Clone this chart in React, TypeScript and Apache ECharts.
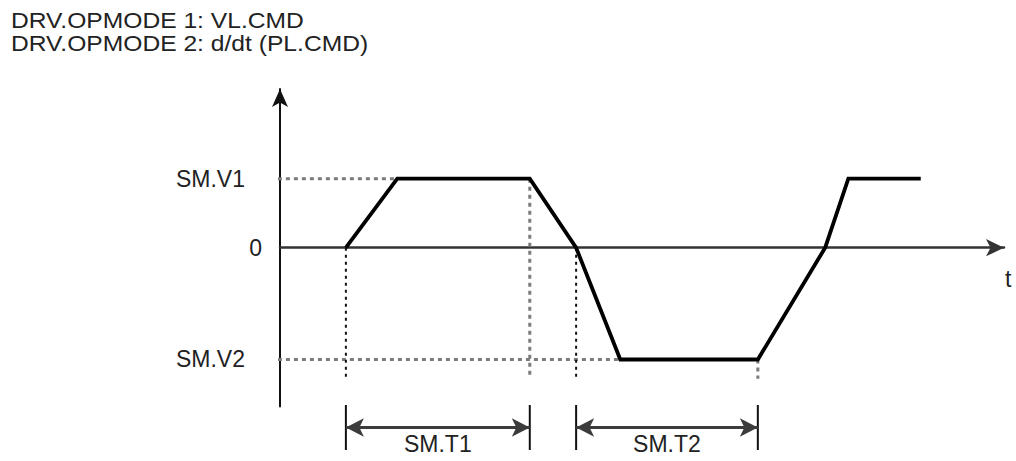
import React, { useEffect, useRef } from 'react';
import * as echarts from 'echarts';

// ---- chart content -------------------------------------------------------
const TITLE_LINES = ['DRV.OPMODE 1: VL.CMD', 'DRV.OPMODE 2: d/dt (PL.CMD)'];
const TIME_AXIS_NAME = 't';

// commanded velocity profile (t in arbitrary units, v in units of SM.V1)
const PROFILE_T = [9.1, 16.2, 34.5, 40.9, 47.0, 66.0, 75.3, 78.5, 88.5];
const PROFILE_V = [0, 1, 1, 0, -1.62, -1.62, 0, 1, 1];

// y-axis level labels
const LEVEL_VALUES = [1, 0, -1.62];
const LEVEL_LABELS = ['SM.V1', '0', 'SM.V2'];

// axis extents
const T_AXIS = [0, 100];
const V_AXIS = [-2.3, 2.3];

// guide line extents
const GUIDE_LEFT_T = -2.5;
const GUIDE_BOTTOM_V = -1.9;

// time intervals (indices into the profile)
const DIM_NAMES = ['SM.T1', 'SM.T2'];
const DIM_START_IDX = [0, 3];
const DIM_END_IDX = [2, 5];

// --------------------------------------------------------------------------
const FONT = 'Liberation Sans, Arial, Helvetica, sans-serif';
const TEXT_COLOR = '#222';
const FS = 23;

export default function App() {
  const ref = useRef<HTMLDivElement>(null);

  useEffect(() => {
    if (!ref.current) return;
    const chart = echarts.init(ref.current, undefined, { renderer: 'svg' });

    const grayDash = { color: '#7c7c7c', width: 3, type: [4, 4] as number[] };
    const blackDash = { color: '#111', width: 2, type: [3, 4] as number[] };

    const seg = (pts: number[][], style: any, grid = 0) => ({
      type: 'line',
      xAxisIndex: grid,
      yAxisIndex: grid,
      data: pts,
      showSymbol: false,
      symbol: 'none',
      clip: false,
      silent: true,
      lineStyle: style,
      z: 2,
    });

    const guides: any[] = [];
    // horizontal level guides
    guides.push(seg([[GUIDE_LEFT_T, LEVEL_VALUES[0]], [PROFILE_T[1], PROFILE_V[1]]], grayDash));
    guides.push(seg([[GUIDE_LEFT_T, LEVEL_VALUES[2]], [PROFILE_T[4], PROFILE_V[4]]], grayDash));
    // vertical time guides
    DIM_NAMES.forEach((_, k) => {
      const s = DIM_START_IDX[k];
      const e = DIM_END_IDX[k];
      guides.push(seg([[PROFILE_T[s], PROFILE_V[s]], [PROFILE_T[s], GUIDE_BOTTOM_V]], blackDash));
      guides.push(seg([[PROFILE_T[e], PROFILE_V[e]], [PROFILE_T[e], GUIDE_BOTTOM_V]], grayDash));
    });

    // dimension arrows (second grid)
    const dims: any[] = [];
    DIM_NAMES.forEach((name, k) => {
      const t0 = PROFILE_T[DIM_START_IDX[k]];
      const t1 = PROFILE_T[DIM_END_IDX[k]];
      const tickStyle = { color: '#111', width: 2 };
      const left: any = seg([[t0, 0], [t0, 1]], tickStyle, 1);
      left.markLine = {
        silent: true,
        symbol: ['arrow', 'arrow'],
        symbolSize: [14, 18],
        lineStyle: { color: '#3c3c3c', width: 3, type: 'solid' },
        label: {
          show: true,
          position: 'insideMiddleBottom',
          formatter: name,
          fontSize: FS,
          fontFamily: FONT,
          color: TEXT_COLOR,
          distance: 5,
        },
        data: [[{ coord: [t0, 0.5] }, { coord: [t1, 0.5] }]],
      };
      dims.push(left);
      dims.push(seg([[t1, 0], [t1, 1]], tickStyle, 1));
    });

    const option: any = {
      animation: false,
      backgroundColor: '#fff',
      textStyle: { fontFamily: FONT },
      graphic: TITLE_LINES.map((line, i) => ({
        type: 'text',
        x: 11,
        y: 20 + i * 23,
        scaleX: 1.12,
        silent: true,
        style: {
          text: line,
          fontFamily: FONT,
          fontSize: 22,
          fill: TEXT_COLOR,
          verticalAlign: 'middle',
          align: 'left',
        },
      })),
      grid: [
        { left: 280, right: 12, top: 89, height: 317.4, outerBoundsMode: 'none', containLabel: false },
        { left: 280, right: 12, top: 405, height: 45, outerBoundsMode: 'none', containLabel: false },
      ],
      xAxis: [
        {
          type: 'value',
          gridIndex: 0,
          min: T_AXIS[0],
          max: T_AXIS[1],
          name: TIME_AXIS_NAME,
          nameLocation: 'end',
          nameGap: 1,
          nameTextStyle: {
            fontSize: FS,
            fontFamily: FONT,
            color: TEXT_COLOR,
            verticalAlign: 'top',
            padding: [20, 0, 0, 0],
          },
          axisLine: {
            show: true,
            onZero: true,
            symbol: ['none', 'arrow'],
            symbolSize: [13, 18],
            lineStyle: { color: '#333', width: 2.5 },
          },
          axisTick: { show: false },
          axisLabel: { show: false },
          splitLine: { show: false },
        },
        {
          type: 'value',
          gridIndex: 1,
          min: T_AXIS[0],
          max: T_AXIS[1],
          show: false,
        },
      ],
      yAxis: [
        {
          type: 'value',
          gridIndex: 0,
          min: V_AXIS[0],
          max: V_AXIS[1],
          axisLine: {
            show: true,
            onZero: true,
            symbol: ['none', 'arrow'],
            symbolSize: [12, 18],
            lineStyle: { color: '#111', width: 2 },
          },
          axisTick: { show: false },
          splitLine: { show: false },
          axisLabel: {
            show: true,
            customValues: LEVEL_VALUES,
            margin: 18,
            fontSize: FS,
            fontFamily: FONT,
            color: TEXT_COLOR,
            formatter: (v: number) => {
              const i = LEVEL_VALUES.findIndex((x) => Math.abs(x - v) < 1e-6);
              if (i < 0) return '';
              const lab = LEVEL_LABELS[i];
              return lab === '0' ? lab : `{pad|${lab}}`;
            },
            rich: {
              pad: { padding: [0, 17, 0, 0], fontSize: FS, fontFamily: FONT, color: TEXT_COLOR },
            },
          },
        },
        {
          type: 'value',
          gridIndex: 1,
          min: 0,
          max: 1,
          show: false,
        },
      ],
      series: [
        ...guides,
        {
          type: 'line',
          name: 'command',
          xAxisIndex: 0,
          yAxisIndex: 0,
          data: PROFILE_T.map((t, i) => [t, PROFILE_V[i]]),
          showSymbol: false,
          symbol: 'none',
          silent: true,
          lineStyle: { color: '#000', width: 3.8, join: 'miter' },
          z: 5,
        },
        ...dims,
      ],
    };

    chart.setOption(option);
    return () => chart.dispose();
  }, []);

  return (
    <div
      ref={ref}
      style={{ position: 'absolute', left: 0, top: 0, width: 1016, height: 461 }}
    />
  );
}
